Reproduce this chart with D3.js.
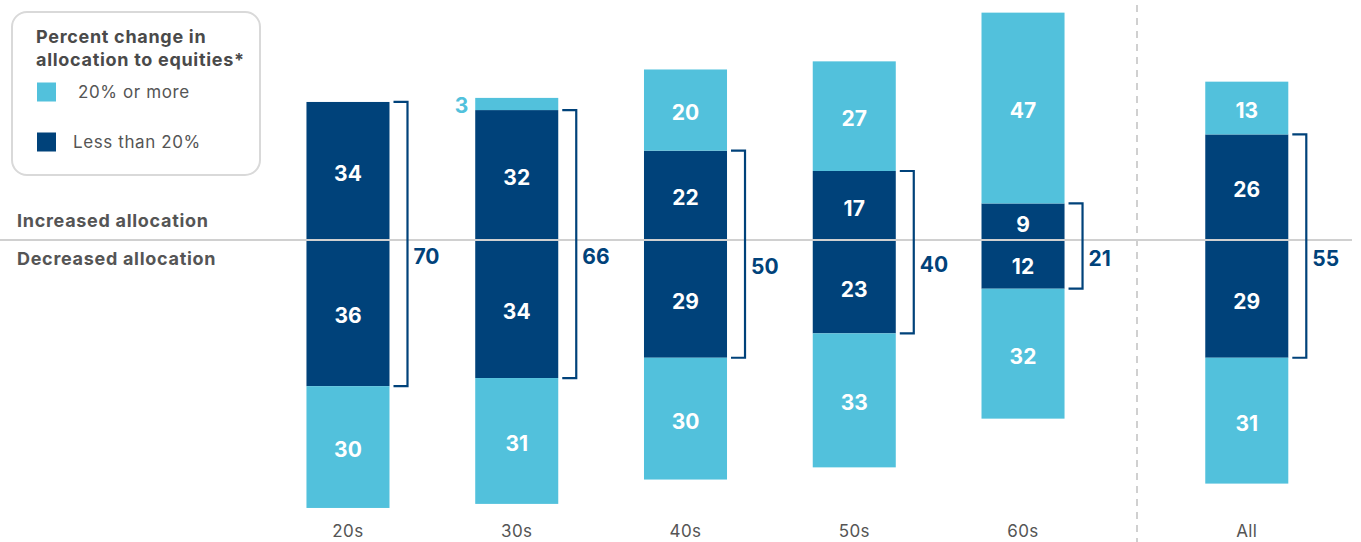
<!DOCTYPE html>
<html>
<head>
<meta charset="utf-8">
<script src="https://cdn.jsdelivr.net/npm/d3@7"></script>
<style>
  html, body { margin: 0; padding: 0; background: #fff; }
  svg { display: block; font-family: "Inter", "Open Sans", sans-serif; }
</style>
</head>
<body>
<svg id="chart" width="1361" height="542"></svg>
<script>
// Age groups plus the overall column
const groups = ["20s", "30s", "40s", "50s", "60s", "All"];
// Increased allocation: change of less than 20% / 20% or more
const incLess = [34, 32, 22, 17, 9, 26];
const incMore = [0, 3, 20, 27, 47, 13];
// Decreased allocation: change of less than 20% / 20% or more
const decLess = [36, 34, 29, 23, 12, 29];
const decMore = [30, 31, 30, 33, 32, 31];
// Share of investors whose change was under 20% (bracketed totals)
const totals = [70, 66, 50, 40, 21, 55];

const legendItems = ["20% or more", "Less than 20%"];

const LIGHT = "#52c1dc";
const DARK = "#00427a";
const TEXT = "#555555";

const svg = d3.select("#chart");

const ages = groups.slice(0, 5);
const xAge = d3.scaleBand().domain(ages).range([263.6, 1107.4])
  .paddingInner(0.508).paddingOuter(0.254);
const totalGap = 55;           // extra room before the overall column
const x = g => g === "All" ? xAge("60s") + xAge.step() + totalGap : xAge(g);
const bw = xAge.bandwidth();
const dividerX = 1137;

const y = d3.scaleLinear().domain([-70, 60]).range([240 + 70 * 4.06, 240 - 60 * 4.06]);

// Build stacked segments
const segs = [];
groups.forEach((g, i) => {
  segs.push({ g, i, y0: 0, y1: incLess[i], v: incLess[i], color: DARK });
  segs.push({ g, i, y0: incLess[i], y1: incLess[i] + incMore[i], v: incMore[i], color: LIGHT });
  segs.push({ g, i, y0: -decLess[i], y1: 0, v: decLess[i], color: DARK });
  segs.push({ g, i, y0: -decLess[i] - decMore[i], y1: -decLess[i], v: decMore[i], color: LIGHT });
});
const shown = segs.filter(s => s.v > 0);

// Divider between age groups and overall
svg.append("line")
  .attr("x1", dividerX).attr("x2", dividerX)
  .attr("y1", 5).attr("y2", 542)
  .attr("stroke", "#d0d0d0").attr("stroke-width", 2)
  .attr("stroke-dasharray", "7,6");

// Bars
svg.append("g").selectAll("rect").data(shown).join("rect")
  .attr("x", d => x(d.g))
  .attr("width", bw)
  .attr("y", d => y(d.y1))
  .attr("height", d => y(d.y0) - y(d.y1))
  .attr("fill", d => d.color);

// Zero line
svg.append("line")
  .attr("x1", 0).attr("x2", 1352)
  .attr("y1", y(0)).attr("y2", y(0))
  .attr("stroke", "#d0d0d0").attr("stroke-width", 2);

// Segment value labels
svg.append("g").selectAll("text").data(shown).join("text")
  .each(function (d) {
    const small = (y(d.y0) - y(d.y1)) < 22;
    const t = d3.select(this);
    const cy = (y(d.y0) + y(d.y1)) / 2;
    if (small) {
      t.attr("x", x(d.g) - 7).attr("y", cy + 1).attr("text-anchor", "end")
        .attr("fill", LIGHT);
    } else {
      t.attr("x", x(d.g) + bw / 2).attr("y", cy + 2.5).attr("text-anchor", "middle")
        .attr("fill", "#fff");
    }
  })
  .attr("dy", "0.36em")
  .attr("font-size", 21)
  .attr("font-weight", 700)
  .text(d => d.v);

// Brackets around the under-20% segments
const br = svg.append("g");
groups.forEach((g, i) => {
  const top = y(incLess[i]);
  const bot = y(-decLess[i]);
  const x0 = x(g) + bw + 4;
  const x1 = x(g) + bw + 18;
  br.append("path")
    .attr("d", `M${x0},${top}H${x1}V${bot}H${x0}`)
    .attr("fill", "none")
    .attr("stroke", DARK)
    .attr("stroke-width", 2.2);
  br.append("text")
    .attr("x", x1 + 6)
    .attr("y", (top + bot) / 2 + 12)
    .attr("dy", "0.36em")
    .attr("font-size", 21)
    .attr("font-weight", 700)
    .attr("fill", DARK)
    .text(totals[i]);
});

// Category labels
svg.append("g").selectAll("text").data(groups).join("text")
  .attr("x", g => x(g) + bw / 2)
  .attr("y", 531)
  .attr("dy", "0.36em")
  .attr("text-anchor", "middle")
  .attr("font-size", 17)
  .attr("letter-spacing", 0.4)
  .attr("fill", TEXT)
  .text(g => g);

// Side captions
const caption = (txt, yy) => svg.append("text").attr("x", 17).attr("y", yy).attr("dy", "0.36em")
  .attr("font-size", 18).attr("font-weight", 700).attr("letter-spacing", 0.7)
  .attr("fill", TEXT).text(txt);
caption("Increased allocation", 221);
caption("Decreased allocation", 259);

// Legend
const lg = svg.append("g");
lg.append("rect")
  .attr("x", 12).attr("y", 12).attr("width", 248).attr("height", 163)
  .attr("rx", 15).attr("fill", "#fff")
  .attr("stroke", "#d9d9d9").attr("stroke-width", 2);
["Percent change in", "allocation to equities*"].forEach((line, k) => {
  lg.append("text").attr("x", 36).attr("y", 43 + k * 23)
    .attr("font-size", 18).attr("font-weight", 700).attr("letter-spacing", 0.7)
    .attr("fill", "#4a4a4a")
    .text(line);
});
const legendColors = [LIGHT, DARK];
const legendRowY = [92, 142];
const legendTextX = [78, 73];
legendItems.forEach((item, k) => {
  lg.append("rect")
    .attr("x", 37).attr("y", legendRowY[k] - 9.5)
    .attr("width", 19).attr("height", 19)
    .attr("fill", legendColors[k]);
  lg.append("text")
    .attr("x", legendTextX[k]).attr("y", legendRowY[k]).attr("dy", "0.36em")
    .attr("font-size", 17).attr("letter-spacing", 0.6)
    .attr("fill", TEXT)
    .text(item);
});
</script>
</body>
</html>
